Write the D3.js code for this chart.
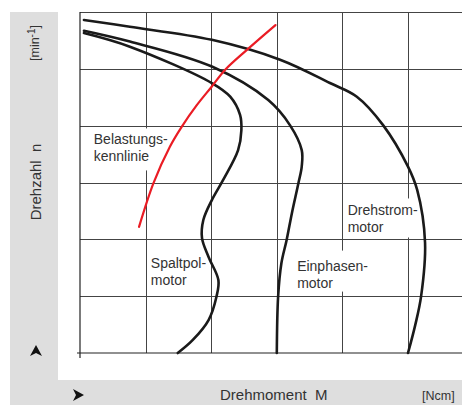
<!DOCTYPE html>
<html>
<head>
<meta charset="utf-8">
<script src="https://cdn.jsdelivr.net/npm/d3@7"></script>
<style>
  html, body { margin: 0; padding: 0; background: #fff; }
  svg { display: block; }
  text { font-family: "Liberation Sans", Arial, Helvetica, sans-serif; fill: #333; white-space: pre; }
</style>
</head>
<body>
<svg id="chart" width="462" height="405"></svg>
<script>
// Torque (M) vs. speed (n) characteristics, in grid units
const gridX = [1, 2, 3, 4, 5];
const gridY = [1, 2, 3, 4, 5, 6];

const drehstrom = [
  [0.06, 5.86], [0.76, 5.74], [2.01, 5.51], [3.05, 5.16], [3.81, 4.75],
  [4.22, 4.51], [4.62, 4.01], [5.00, 3.28], [5.14, 2.87], [5.26, 1.94],
  [5.20, 1.00], [5.11, 0.49], [5.00, 0.00]
];
const einphasen = [
  [0.06, 5.67], [0.76, 5.48], [2.01, 5.04], [2.87, 4.45], [3.20, 4.01],
  [3.38, 3.57], [3.38, 3.28], [3.33, 2.99], [3.23, 2.46], [3.15, 1.99],
  [3.07, 1.58], [3.02, 0.99], [3.00, 0.00]
];
const spaltpol = [
  [0.06, 5.63], [0.76, 5.39], [2.01, 4.75], [2.29, 4.51], [2.44, 4.19],
  [2.46, 3.92], [2.41, 3.57], [2.18, 3.04], [2.01, 2.69], [1.88, 2.34],
  [1.86, 2.02], [1.96, 1.69], [2.11, 1.28], [2.08, 0.99], [1.96, 0.58],
  [1.72, 0.23], [1.49, 0.00]
];
const belastung = [
  [0.90, 2.22], [1.12, 2.99], [1.37, 3.63], [1.55, 3.98], [1.78, 4.36],
  [2.01, 4.69], [2.21, 4.98], [2.54, 5.33], [2.98, 5.77]
];

const curveLabels = [
  { lines: ["Belastungs-", "kennlinie"], at: [0.21, 3.67], box: [-6, -16, 82, 42] },
  { lines: ["Spaltpol-", "motor"], at: [1.08, 1.49], box: null },
  { lines: ["Einphasen-", "motor"], at: [3.31, 1.45], box: [-5, -20, 78, 41] },
  { lines: ["Drehstrom-", "motor"], at: [4.08, 2.42], box: [-3, -17, 76, 39] }
];

const svg = d3.select("#chart");
const W = 462, H = 405;

const x = d3.scaleLinear().domain([0, 6]).range([80, 80 + 6 * 65.6]);
const y = d3.scaleLinear().domain([0, 6]).range([353, 12]);

// background panels
svg.append("rect").attr("x", 10).attr("y", 12).attr("width", W - 10).attr("height", H - 12).attr("fill", "#dedede");
svg.append("rect").attr("x", 58).attr("y", 0).attr("width", W - 58).attr("height", 380).attr("fill", "#fff");

// grid
const grid = svg.append("g").attr("stroke", "#444").attr("stroke-width", 1).attr("shape-rendering", "crispEdges");
grid.selectAll("line.v").data(gridX).join("line")
  .attr("x1", d => Math.round(x(d)) + 0.5).attr("x2", d => Math.round(x(d)) + 0.5)
  .attr("y1", y(6)).attr("y2", y(0));
grid.selectAll("line.h").data(gridY).join("line")
  .attr("x1", x(0)).attr("x2", W)
  .attr("y1", d => Math.round(y(d)) + 0.5).attr("y2", d => Math.round(y(d)) + 0.5);

// label backgrounds interrupt the grid
const labelG = svg.append("g");
curveLabels.forEach(l => {
  if (l.box) {
    labelG.append("rect")
      .attr("x", x(l.at[0]) + l.box[0]).attr("y", y(l.at[1]) + l.box[1])
      .attr("width", l.box[2]).attr("height", l.box[3]).attr("fill", "#fff");
  }
});

// axes
const axes = svg.append("g").attr("stroke", "#222").attr("stroke-width", 1.2);
axes.append("line").attr("x1", x(0) - 3).attr("x2", W).attr("y1", y(0)).attr("y2", y(0));
axes.append("line").attr("x1", x(0)).attr("x2", x(0)).attr("y1", y(6)).attr("y2", y(0) + 5);

// curves
const line = d3.line().x(d => x(d[0])).y(d => y(d[1])).curve(d3.curveCatmullRom.alpha(0.5));
[drehstrom, einphasen, spaltpol].forEach(s => {
  svg.append("path").attr("d", line(s)).attr("fill", "none")
    .attr("stroke", "#1a1a1a").attr("stroke-width", 2.6).attr("stroke-linecap", "round");
});
svg.append("path").attr("d", line(belastung)).attr("fill", "none")
  .attr("stroke", "#ea1c24").attr("stroke-width", 2.2).attr("stroke-linecap", "round");

// curve labels
curveLabels.forEach(l => {
  const t = svg.append("text").attr("x", x(l.at[0])).attr("y", y(l.at[1]))
    .attr("font-size", 14);
  l.lines.forEach((s, i) => {
    t.append("tspan").attr("x", x(l.at[0])).attr("dy", i === 0 ? 0 : 17).text(s);
  });
});

// axis titles
svg.append("text").attr("x", 220).attr("y", 400).attr("font-size", 15).text("Drehmoment  M");
svg.append("text").attr("x", 422).attr("y", 400).attr("font-size", 12.5).text("[Ncm]");

svg.append("text").attr("transform", "translate(41,182) rotate(-90)")
  .attr("text-anchor", "middle").attr("font-size", 15).text("Drehzahl  n");
const yu = svg.append("text").attr("transform", "translate(39,61) rotate(-90)")
  .attr("font-size", 12.5);
yu.append("tspan").text("[min");
yu.append("tspan").attr("dy", -4).attr("font-size", 10).text("-1");
yu.append("tspan").attr("dy", 4).text("]");

// arrowheads on the axis titles
const arrow = "M0,-6 L11,0 L0,6 L3,0 Z";
svg.append("path").attr("d", arrow).attr("transform", "translate(73,395)").attr("fill", "#111");
svg.append("path").attr("d", arrow).attr("transform", "translate(36,356) rotate(-90)").attr("fill", "#111");
</script>
</body>
</html>
